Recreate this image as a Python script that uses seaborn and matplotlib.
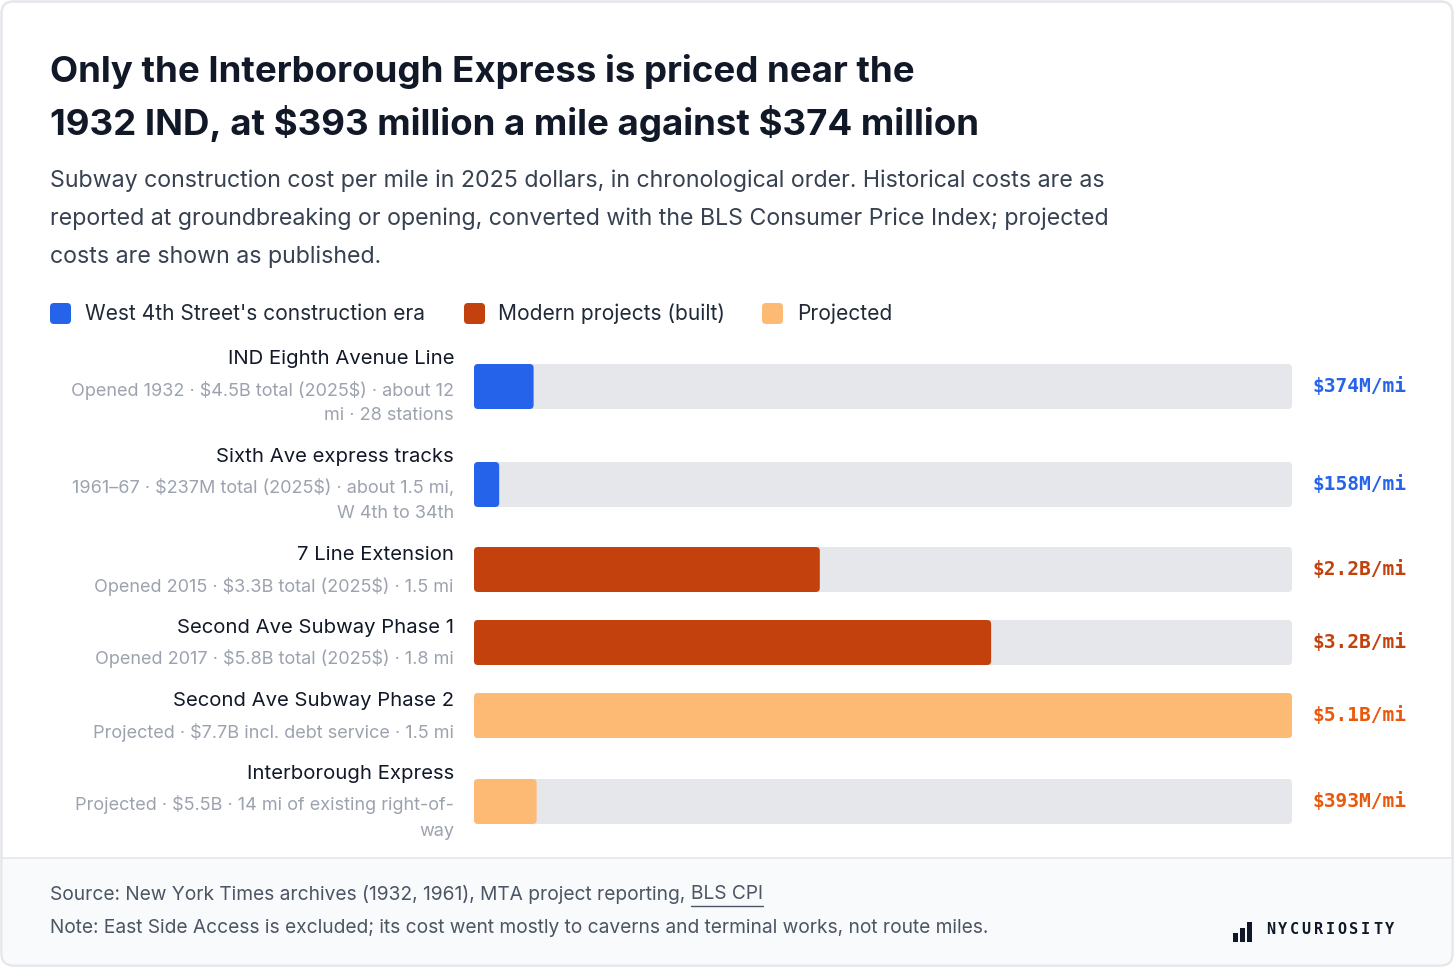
import numpy as np
import pandas as pd
import seaborn as sns
import matplotlib.pyplot as plt
from matplotlib.patches import FancyBboxPatch, Rectangle

#%% data
projects = ["IND Eighth Avenue Line", "Sixth Ave express tracks", "7 Line Extension",
            "Second Ave Subway Phase 1", "Second Ave Subway Phase 2", "Interborough Express"]
details = ["Opened 1932 · $4.5B total (2025$) · about 12\nmi · 28 stations",
           "1961–67 · $237M total (2025$) · about 1.5 mi,\nW 4th to 34th",
           "Opened 2015 · $3.3B total (2025$) · 1.5 mi",
           "Opened 2017 · $5.8B total (2025$) · 1.8 mi",
           "Projected · $7.7B incl. debt service · 1.5 mi",
           "Projected · $5.5B · 14 mi of existing right-of-\nway"]
cost_per_mile = [374, 158, 2170, 3245, 5133, 393]   # $M per mile, 2025 dollars
value_labels = ["$374M/mi", "$158M/mi", "$2.2B/mi", "$3.2B/mi", "$5.1B/mi", "$393M/mi"]
groups = ["era", "era", "modern", "modern", "projected", "projected"]
group_names = {"era": "West 4th Street's construction era",
               "modern": "Modern projects (built)",
               "projected": "Projected"}

bar_colors = {"era": "#2563eb", "modern": "#c2410c", "projected": "#fdba74"}
label_colors = {"era": "#2563eb", "modern": "#c2410c", "projected": "#ea580c"}

#%% layout (pixels)
W, H = 1456, 969
sns.set_theme(style="white")
plt.rcParams['font.family'] = ['Inter', 'DejaVu Sans']
plt.rcParams['text.parse_math'] = False

title_y, bar_y = [], []
y = 359
for d in details:
    n = d.count("\n") + 1
    title_y.append(y)
    bar_y.append((y + y + 31 + 26 * (n - 1)) / 2 - 1)
    y += 48 + 25 * n

df = pd.DataFrame({"project": projects, "cost": cost_per_mile, "group": groups, "y": bar_y})
xmax = max(cost_per_mile)

fig = plt.figure(figsize=(W / 100, H / 100), dpi=100)
bg = fig.add_axes([0, 0, 1, 1])
bg.set_xlim(0, W)
bg.set_ylim(H, 0)
bg.axis("off")

# card + footer
card = FancyBboxPatch((1.5, 1.5), W - 5, H - 5, boxstyle="round,pad=0,rounding_size=12",
                      fc="white", ec="#e5e7eb", lw=1.5, zorder=0)
bg.add_patch(card)
foot = Rectangle((0, 858), W, H - 858, fc="#f8fafc", ec="none", zorder=1)
bg.add_patch(foot)
foot.set_clip_path(card)
bg.plot([2, W - 4], [858, 858], color="#e5e7eb", lw=1.2, zorder=2)
card2 = FancyBboxPatch((1.5, 1.5), W - 5, H - 5, boxstyle="round,pad=0,rounding_size=12",
                       fc="none", ec="#e5e7eb", lw=1.5, zorder=3)
bg.add_patch(card2)

# title / subtitle
bg.text(50, 71, "Only the Interborough Express is priced near the", fontsize=26.4,
        fontweight="bold", color="#111827", va="center")
bg.text(50, 123, "1932 IND, at $393 million a mile against $374 million", fontsize=26.4,
        fontweight="bold", color="#111827", va="center")
subtitle = ["Subway construction cost per mile in 2025 dollars, in chronological order. Historical costs are as",
            "reported at groundbreaking or opening, converted with the BLS Consumer Price Index; projected",
            "costs are shown as published."]
for i, s in enumerate(subtitle):
    bg.text(50, 181 + 38 * i, s, fontsize=16.7, color="#374151", va="center")

# legend
leg_x = [(50, 85), (464, 498), (762, 797)]
for (sx, tx), key in zip(leg_x, ["era", "modern", "projected"]):
    bg.add_patch(FancyBboxPatch((sx, 303), 21, 21, boxstyle="round,pad=0,rounding_size=4",
                                fc=bar_colors[key], ec="none", zorder=3))
    bg.text(tx, 314, group_names[key], fontsize=15.1, color="#1f2937", va="center")

# row labels
for ty, name, d in zip(title_y, projects, details):
    bg.text(454, ty, name, fontsize=14.6, color="#111827", ha="right", va="center")
    for k, line in enumerate(d.split("\n")):
        bg.text(454, ty + 31 + 26 * k, line, fontsize=13, color="#9ca3af",
                ha="right", va="center")

#%% bars
ax = fig.add_axes([474 / W, 0, 818 / W, 1])
ax.patch.set_alpha(0)
min_gap = np.min(np.diff(bar_y))
bar_w = 45 / min_gap

sns.barplot(data=df.assign(track=xmax), x="track", y="y", orient="y", native_scale=True,
            color="#e5e7eb", saturation=1, width=bar_w, ax=ax, zorder=2)
sns.barplot(data=df, x="cost", y="y", hue="group", palette=bar_colors, orient="y",
            native_scale=True, saturation=1, width=bar_w, legend=False, dodge=False,
            ax=ax, zorder=3)

ax.set_xlim(0, xmax)
ax.set_ylim(H, 0)

# swap rectangles for rounded boxes
px_per_x = 818 / xmax
for p in list(ax.patches):
    x0, y0, w, h = p.get_x(), p.get_y(), p.get_width(), p.get_height()
    if w <= 0:
        continue
    fc = p.get_facecolor()
    z = p.get_zorder()
    p.remove()
    r = 4 / px_per_x
    ax.add_patch(FancyBboxPatch((x0, y0), w, h, boxstyle=f"round,pad=0,rounding_size={r}",
                                mutation_aspect=px_per_x, fc=fc, ec="none", zorder=z))
ax.axis("off")

for yy, lab, g in zip(bar_y, value_labels, groups):
    bg.text(1313, yy, lab, fontsize=14, fontweight="bold", color=label_colors[g],
            family="DejaVu Sans Mono", va="center")

#%% footer
src = bg.text(50, 894, "Source: New York Times archives (1932, 1961), MTA project reporting, ",
              fontsize=13.8, color="#4b5563", va="center")
renderer = fig.canvas.get_renderer()
bb = src.get_window_extent(renderer)
x_link = bb.x1
link = bg.text(x_link, 894, "BLS CPI", fontsize=13.8, color="#4b5563", va="center")
lb = link.get_window_extent(renderer)
bg.plot([lb.x0, lb.x1], [906, 906], color="#4b5563", lw=1)
bg.text(50, 928, "Note: East Side Access is excluded; its cost went mostly to caverns and terminal works, not route miles.",
        fontsize=13.8, color="#4b5563", va="center")

# logo
for i, hgt in enumerate([9, 14, 20]):
    bg.add_patch(Rectangle((1233 + 7 * i, 942 - hgt), 5, hgt, fc="#111827", ec="none", zorder=4))
for i, ch in enumerate("NYCURIOSITY"):
    bg.text(1266 + 11.9 * i, 929, ch, fontsize=11, fontweight="bold",
            family="DejaVu Sans Mono", color="#111827", va="center")

fig.savefig("out.png", dpi=100)
